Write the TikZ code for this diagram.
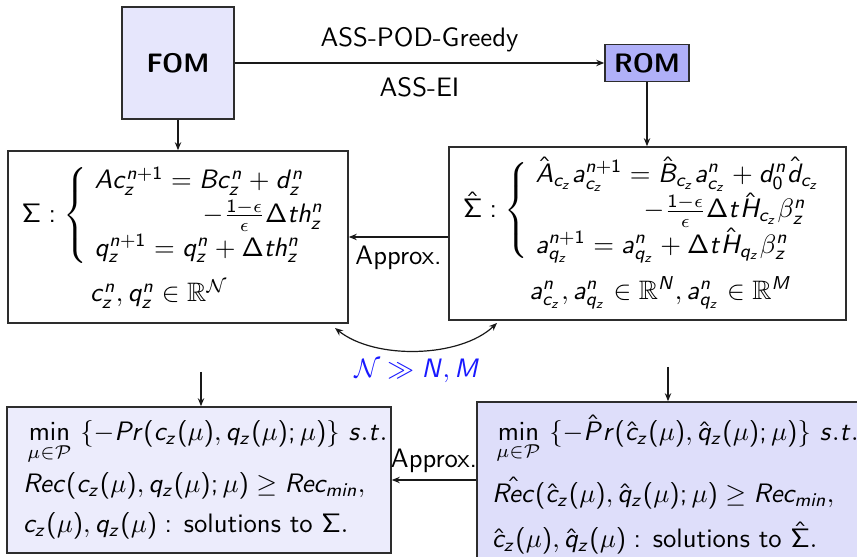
\documentclass[tikz,border=0pt]{standalone}
\usepackage{amsmath,amssymb}
\usetikzlibrary{arrows.meta}
\renewcommand{\familydefault}{\sfdefault}
\DeclareSymbolFont{sfitalic}{OT1}{cmss}{m}{sl}
\SetSymbolFont{operators}{normal}{OT1}{cmss}{m}{n}
\makeatletter
\def\sfletter#1{\DeclareMathSymbol{#1}{\mathalpha}{sfitalic}{`#1}}
\@tfor\my@tmp:=abcdefghijklmnopqrstuvwxyzABCDEFGHIJKLMNOPQRSTUVWXYZ\do{\expandafter\sfletter\my@tmp}
\makeatother
\definecolor{fomfill}{RGB}{230,230,252}
\definecolor{romfill}{RGB}{176,176,248}
\definecolor{blfill}{RGB}{236,236,252}
\definecolor{brfill}{RGB}{222,222,250}
\definecolor{edge}{RGB}{45,45,45}
\definecolor{relblue}{RGB}{25,25,255}
\begin{document}
\begin{tikzpicture}[x=0.375pt,y=-0.375pt,
  box/.style={draw=edge, line width=0.6pt, inner sep=0pt},
  arr/.style={-{Stealth[length=3pt,width=2.4pt]}, line width=0.45pt, draw=black!90},
  dblarr/.style={{Stealth[length=3pt,width=2.4pt]}-{Stealth[length=3pt,width=2.4pt]}, line width=0.45pt, draw=black!90},
  lbl/.style={inner sep=1pt, font=\normalsize}]
\clip (0,0) rectangle (857,557);
\fill[white] (0,0) rectangle (857,557);
% top boxes
\node[box, fill=fomfill, minimum width={112*0.375pt}, minimum height={112*0.375pt}, font=\bfseries] (fom) at (178,63) {FOM};
\node[box, fill=romfill, minimum width={84*0.375pt}, minimum height={37*0.375pt}, font=\bfseries] (rom) at (647,63) {ROM};
\draw[arr] (fom) -- (rom)
  node[lbl, midway, above=3pt] {ASS-POD-Greedy}
  node[lbl, midway, below=4pt] {ASS-EI};
% Sigma
\node[box, minimum width={340*0.375pt}, minimum height={172*0.375pt}, text width={312*0.375pt}, align=left] (sigma) at (178,237) {%
$\renewcommand{\arraystretch}{1.05}\Sigma : \left\{\begin{array}{@{\;}l@{}}
Ac_z^{n+1} = Bc_z^n + d_z^n\\
\hspace*{40.5pt}-\frac{1-\epsilon}{\epsilon}\Delta t h_z^n\\
q_z^{n+1} = q_z^n + \Delta t h_z^n
\end{array}\right.$\\[4pt]
\hspace*{25.5pt}$c_z^n, q_z^n \in \mathbb{R}^{\mathcal{N}}$};
% Sigma hat
\node[box, minimum width={397*0.375pt}, minimum height={173*0.375pt}, text width={369*0.375pt}, align=left] (sighat) at (647.5,233.5) {%
$\renewcommand{\arraystretch}{1.05}\hat{\Sigma} : \left\{\begin{array}{@{\;}l@{}}
\hat{A}_{c_z} a_{c_z}^{n+1} = \hat{B}_{c_z} a_{c_z}^n + d_0^n \hat{d}_{c_z}\\
\hspace*{40.5pt}-\frac{1-\epsilon}{\epsilon}\Delta t \hat{H}_{c_z}\beta_z^n\\
a_{q_z}^{n+1} = a_{q_z}^n + \Delta t \hat{H}_{q_z}\beta_z^n
\end{array}\right.$\\[4pt]
\hspace*{25pt}$a_{c_z}^n, a_{q_z}^n \in \mathbb{R}^N, a_{q_z}^n \in \mathbb{R}^M$};
% bottom boxes
\node[box, fill=blfill, minimum width={384*0.375pt}, minimum height={146*0.375pt}, text width={352*0.375pt}, align=left] (bl) at (199,480) {%
$\,\min\limits_{\mu\in\mathcal{P}}\ \{-Pr(c_z(\mu), q_z(\mu);\mu)\}\ s.t.$\\[2pt]
$Rec(c_z(\mu), q_z(\mu);\mu) \geq Rec_{min},$\\[3pt]
$c_z(\mu), q_z(\mu) :\, \text{solutions to } \Sigma.$};
\node[box, fill=brfill, minimum width={390*0.375pt}, minimum height={165*0.375pt}, text width={360*0.375pt}, align=left] (br) at (672,484.5) {%
$\,\min\limits_{\mu\in\mathcal{P}}\ \{-\hat{P}r(\hat{c}_z(\mu), \hat{q}_z(\mu);\mu)\}\ s.t.$\\[4pt]
$\hat{Rec}(\hat{c}_z(\mu), \hat{q}_z(\mu);\mu) \geq Rec_{min},$\\[5pt]
$\hat{c}_z(\mu), \hat{q}_z(\mu) :\, \text{solutions to } \hat{\Sigma}.$};
% connectors
\draw[arr] (fom) -- (sigma);
\draw[arr] (rom.south) -- (rom.south |- sighat.north);
\draw[arr] (sighat.west |- sigma.east) -- (sigma.east)
  node[lbl, midway, below=2pt] {Approx.};
\draw[arr] (br.west |- bl.east) -- (bl.east)
  node[lbl, midway, above=1.5pt] {Approx.};
\coordinate (d1) at (201,372);
\coordinate (d2) at (668,367);
\draw[arr] (d1) -- (d1 |- bl.north);
\draw[arr] (d2) -- (d2 |- br.north);
\coordinate (c1) at (335,328);
\coordinate (c2) at (497,323);
\draw[dblarr] (c2) .. controls (460,358) and (375,360) .. (c1)
  node[pos=0.5, below=2pt, inner sep=1pt, text=relblue] {$\mathcal{N} \gg N, M$};
\end{tikzpicture}
\end{document}
